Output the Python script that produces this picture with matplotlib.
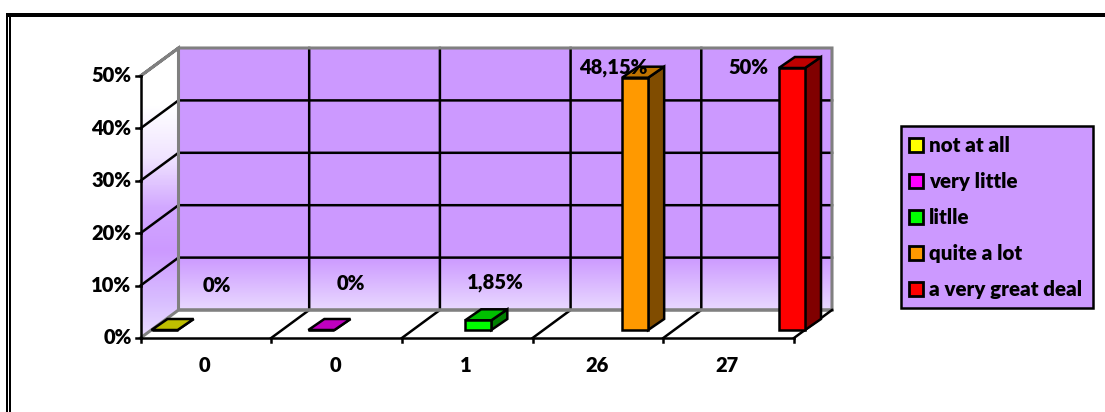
import numpy as np
import matplotlib
matplotlib.use('Agg')
import matplotlib.pyplot as plt
from matplotlib.patches import Polygon, Rectangle
from matplotlib.colors import LinearSegmentedColormap

plt.rcParams['font.family'] = ['Lato', 'DejaVu Sans']
plt.rcParams['font.weight'] = 'heavy'

# Data
categories = ['0', '0', '1', '26', '27']
series_names = ['not at all', 'very little', 'litlle', 'quite a lot', 'a very great deal']
values = [0, 0, 1.85, 48.15, 50]
value_labels = ['0%', '0%', '1,85%', '48,15%', '50%']
y_ticks = [0, 10, 20, 30, 40, 50]
y_tick_labels = ['0%', '10%', '20%', '30%', '40%', '50%']
front_colors = ['#FFFF00', '#FF00FF', '#00FF00', '#FF9900', '#FF0000']
side_colors = ['#808000', '#800080', '#008000', '#804C00', '#800000']
top_colors = ['#BFBF00', '#BF00BF', '#00BF00', '#BF7300', '#BF0000']

W, H = 1105, 412
fig = plt.figure(figsize=(W / 100, H / 100), dpi=100)

# pixel layer for the frame and the legend
bg = fig.add_axes([0, 0, 1, 1])
bg.set_xlim(0, W)
bg.set_ylim(H, 0)
bg.axis('off')

# plot axes: x in categories, y in percent, matched to the front plane
left, right, bottom, top = 140.5, 794, 338, 76
ax = fig.add_axes([left / W, 1 - bottom / H, (right - left) / W, (bottom - top) / H])
ax.set_xlim(0, 5)
ax.set_ylim(0, 50)
ax.axis('off')

px = 5 / (right - left)
py = 50 / (bottom - top)
dx, dy = 38 * px, 28 * py  # depth of the box
line_w = 1.8
font_size = 14.5


def poly(pts, **kw):
    p = Polygon(pts, closed=True, clip_on=False, **kw)
    ax.add_patch(p)
    return p


wall = '#CC99FF'
back_cmap = LinearSegmentedColormap.from_list('b', [(0, '#E9D9FF'), (1, wall)])
side_cmap = LinearSegmentedColormap.from_list(
    's', [(0, '#EADCFF'), (0.12, '#D9BFFF'), (0.3, wall), (0.45, '#D2A8FF'), (0.62, '#F0E4FF'), (0.8, '#FFFFFF'), (1, '#FFFFFF')])

# back wall
poly([(dx, dy), (5 + dx, dy), (5 + dx, 50 + dy), (dx, 50 + dy)], facecolor=wall, edgecolor='none', zorder=1)
grad = np.linspace(0, 1, 200).reshape(-1, 1)
ax.imshow(grad, origin='lower', extent=(dx, 5 + dx, dy, 10 + dy), aspect='auto', cmap=back_cmap, zorder=1.1, clip_on=False)
ax.set_xlim(0, 5)
ax.set_ylim(0, 50)

# side wall
side_pts = [(0, 0), (dx, dy), (dx, 50 + dy), (0, 50)]
im = ax.imshow(grad, origin='lower', extent=(0, dx, 0, 50 + dy), aspect='auto', cmap=side_cmap, zorder=1.1)
im.set_clip_path(Polygon(side_pts, transform=ax.transData))
ax.set_xlim(0, 5)
ax.set_ylim(0, 50)

# gridlines on side and back
for t in y_ticks[1:-1]:
    ax.plot([0, dx, 5 + dx], [t, t + dy, t + dy], color='black', lw=line_w, clip_on=False, zorder=2)
for i in range(1, 5):
    ax.plot([i, i + dx, i + dx], [0, dy, 50 + dy], color='black', lw=line_w, clip_on=False, zorder=2)

# grey box edges
ax.plot([0, dx, 5 + dx, 5 + dx, dx, dx, 0], [50, 50 + dy, 50 + dy, dy, dy, 50 + dy, 50],
        color='#808080', lw=2.2, clip_on=False, zorder=2.2, solid_joinstyle='miter')
ax.plot([0, dx, 5 + dx], [0, dy, dy], color='#808080', lw=2.2, clip_on=False, zorder=2.2)
ax.plot([5, 5 + dx], [0, dy], color='black', lw=line_w, clip_on=False, zorder=2.3)

# axes lines and ticks
ax.plot([0, 0], [0, 50], color='black', lw=line_w, clip_on=False, zorder=3)
ax.plot([0, 5], [0, 0], color='black', lw=line_w, clip_on=False, zorder=3)
for t, lab in zip(y_ticks, y_tick_labels):
    ax.plot([-5 * px, 0], [t, t], color='black', lw=line_w, clip_on=False, zorder=3)
    ax.text(-9 * px, t, lab, ha='right', va='center', fontsize=font_size, clip_on=False)
for i in range(6):
    ax.plot([i, i], [0, -4 * py], color='black', lw=line_w, clip_on=False, zorder=3)
for i, c in enumerate(categories):
    ax.text(i + 0.49, -28 * py, c, ha='center', va='center', fontsize=font_size)

# bars: one series per category, sitting inside the floor
bw = 0.2
bd_x, bd_y = 16 * px, 11 * py
bx0, by0 = 11 * px, 8 * py
edge = dict(edgecolor='black', linewidth=line_w, joinstyle='miter', zorder=5)
for i, v in enumerate(values):
    x0 = i + i * bw + bx0
    x1 = x0 + bw
    y0, y1 = by0, by0 + v
    poly([(x1, y0), (x1 + bd_x, y0 + bd_y), (x1 + bd_x, y1 + bd_y), (x1, y1)], facecolor=side_colors[i], **edge)
    poly([(x0, y1), (x1, y1), (x1 + bd_x, y1 + bd_y), (x0 + bd_x, y1 + bd_y)], facecolor=top_colors[i], **edge)
    poly([(x0, y0), (x1, y0), (x1, y1), (x0, y1)], facecolor=front_colors[i], **edge)

# value labels
label_pos = [(217, 286), (351, 283), (495, 282), (613, 68), (748, 68)]
for (lx, ly), lab in zip(label_pos, value_labels):
    ax.text((lx - left) * px, (bottom - ly) * py, lab, ha='center', va='center', fontsize=font_size, zorder=6)

# legend box
bg.add_patch(Rectangle((901, 126), 192, 181.5, facecolor=wall, edgecolor='black', lw=1.8))
for i, name in enumerate(series_names):
    yc = 145 + i * 36.1
    bg.add_patch(Rectangle((909, yc - 7), 14, 14, facecolor=front_colors[i], edgecolor='black', lw=2))
    bg.text(929, yc, name, ha='left', va='center', fontsize=14.8)

# outer frame, open on the right and at the bottom
bg.add_patch(Rectangle((6, 13), W - 6, 4, facecolor='black', edgecolor='none'))
bg.add_patch(Rectangle((6, 13), 1.6, H - 13, facecolor='black', edgecolor='none'))
bg.add_patch(Rectangle((9, 13), 2, H - 13, facecolor='black', edgecolor='none'))

fig.savefig('out.png', dpi=100)
